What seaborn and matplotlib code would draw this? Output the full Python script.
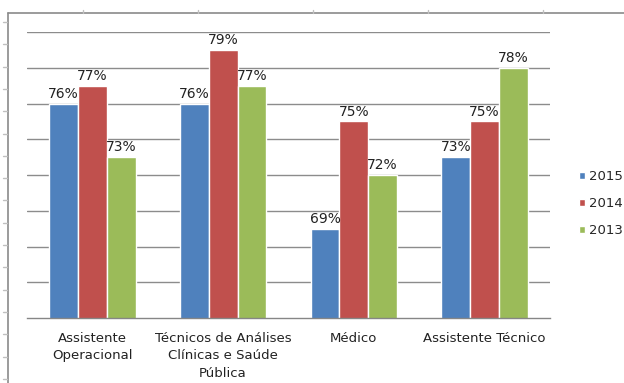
import matplotlib
matplotlib.use("Agg")
import matplotlib.pyplot as plt
from matplotlib.lines import Line2D
import seaborn as sns
import pandas as pd

categories = ["Assistente\nOperacional",
              "Técnicos de Análises\nClínicas e Saúde\nPública",
              "Médico",
              "Assistente Técnico"]
years = ["2015", "2014", "2013"]
values_2015 = [76, 76, 69, 73]
values_2014 = [77, 79, 75, 75]
values_2013 = [73, 77, 72, 78]
colors = ["#4F81BD", "#C0504D", "#9BBB59"]

rows = []
for year, vals in zip(years, [values_2015, values_2014, values_2013]):
    for cat, v in zip(categories, vals):
        rows.append({"categoria": cat, "ano": year, "valor": v})
df = pd.DataFrame(rows)

sns.set_theme(style="white")
plt.rcParams["font.family"] = ["DejaVu Sans"]

W, H = 624, 383
fig = plt.figure(figsize=(W / 100, H / 100), dpi=100)
fig.patch.set_linewidth(0)
ax = fig.add_axes([27 / W, 1 - 318 / H, (550 - 27) / W, (318 - 32) / H])

sns.barplot(data=df, x="categoria", y="valor", hue="ano", hue_order=years,
            palette=colors, width=0.66, edgecolor="white", linewidth=1.0,
            saturation=1, ax=ax, legend=True)

ax.set_ylim(64, 80)
ax.set_xlim(-0.5, 3.5)
ax.set_yticks(range(66, 81, 2))
ax.set_yticklabels([])
ax.tick_params(axis="y", length=0)
ax.yaxis.grid(True, color="#8c8c8c", linewidth=1.0)
ax.set_axisbelow(True)

for s in ["top", "right", "left"]:
    ax.spines[s].set_visible(False)
ax.spines["bottom"].set_color("#868686")
ax.spines["bottom"].set_linewidth(1.0)

# category boundary ticks on the x axis
ax.set_xticks([-0.5, 0.5, 1.5, 2.5, 3.5], minor=True)
ax.tick_params(axis="x", which="minor", length=5, width=1, color="#868686",
               direction="out")
ax.tick_params(axis="x", which="major", length=0, pad=10, labelsize=9.5,
               labelcolor="#222222")
ax.set_xticks(range(len(categories)))
ax.set_xticklabels(categories, linespacing=1.45)
ax.set_xlabel("")
ax.set_ylabel("")

for container in ax.containers:
    ax.bar_label(container, fmt="%.0f%%", padding=2, fontsize=10,
                 color="#222222")

leg = ax.legend(loc="center left", bbox_to_anchor=(1.045, 0.40), frameon=False,
                fontsize=9.5, handlelength=0.45, handleheight=0.45,
                handletextpad=0.3, labelspacing=1.05, borderaxespad=0)

# outer sheet frame with ruler ticks
frame_c = "#8a8a8a"
tick_c = "#c0c0c0"
fig.add_artist(Line2D([8 / W, 8 / W], [0, 1 - 13 / H], color=frame_c, lw=1.2,
                      transform=fig.transFigure))
fig.add_artist(Line2D([8 / W, 1], [1 - 13 / H, 1 - 13 / H], color=frame_c,
                      lw=1.2, transform=fig.transFigure))
for k in range(17):
    yy = 22 + k * 22.3
    fig.add_artist(Line2D([3 / W, 7 / W], [1 - yy / H, 1 - yy / H], color=tick_c,
                          lw=1, transform=fig.transFigure))
for xx in [83, 198, 313, 428, 543]:
    fig.add_artist(Line2D([xx / W, xx / W], [1 - 10 / H, 1 - 13 / H],
                          color=tick_c, lw=1, transform=fig.transFigure))

fig.savefig("out.png", dpi=100)
